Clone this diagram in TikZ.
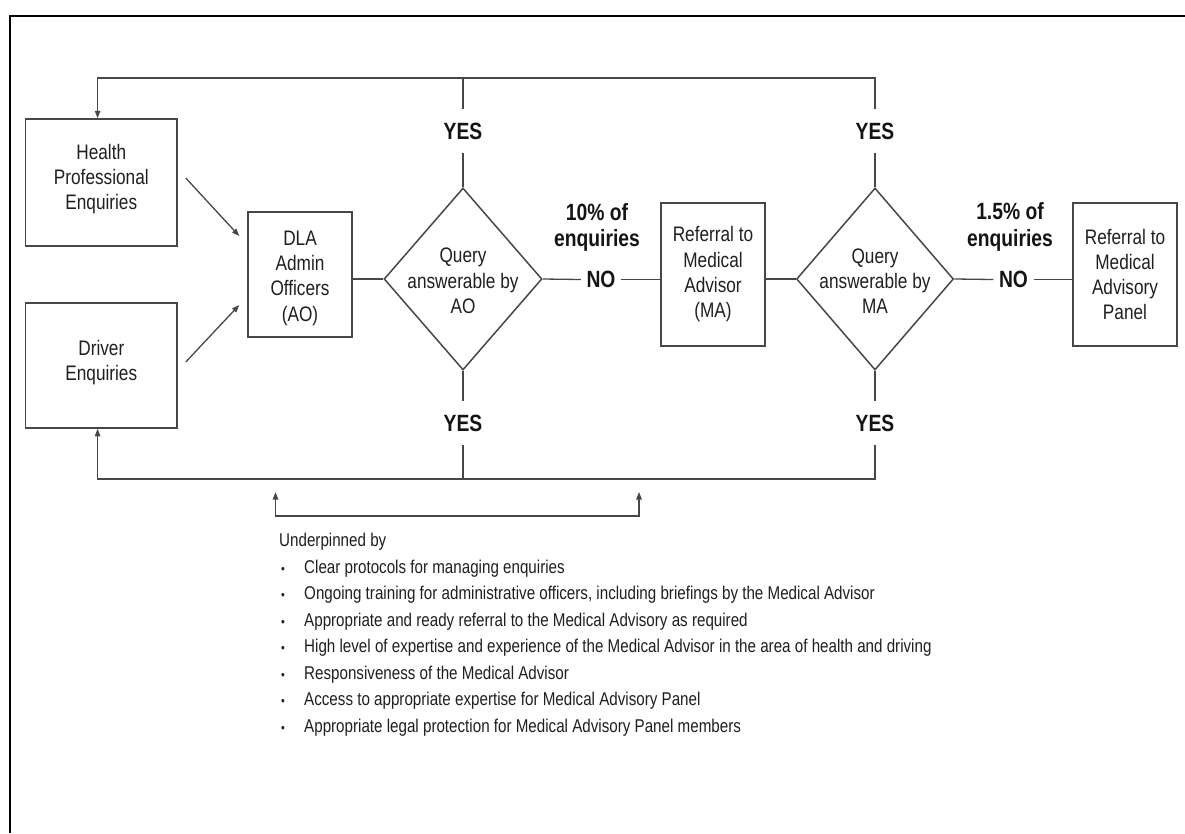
\documentclass[tikz,border=0pt]{standalone}
\usepackage{fontspec}
\setmainfont{Liberation Sans}[FakeStretch=0.82]
\usetikzlibrary{arrows.meta,shapes.geometric,calc}
\newcommand{\boxfont}{\fontsize{21pt}{25.3pt}\selectfont}
\newcommand{\lblfont}{\fontsize{23.5pt}{27pt}\selectfont\bfseries}
\newcommand{\bulfont}{\fontsize{18.5pt}{26.5pt}\selectfont}
\newcommand{\shiftlines}[2]{\raisebox{#1}[\height][\depth]{\begin{tabular}{@{}c@{}}#2\end{tabular}}}
\tikzset{
  ln/.style={draw=black!72, line width=1.3pt},
  arr/.style={ln, -{Triangle[length=7.5pt,width=5.5pt]}},
  dbl/.style={ln, {Triangle[length=7.5pt,width=5.5pt]}-{Triangle[length=7.5pt,width=5.5pt]}},
  boxnode/.style={draw=black!72, line width=1.5pt, inner sep=0pt, align=center,
    font=\boxfont, text=black!88},
  decision/.style={diamond, draw=black!72, line width=1.5pt, inner sep=0pt},
  dectext/.style={align=center, font=\boxfont, text=black!88, inner sep=0pt},
  lbl/.style={font=\lblfont, text=black!92, inner sep=0pt},
  yeslbl/.style={lbl, inner xsep=0pt, inner ysep=13pt},
  nolbl/.style={lbl, inner ysep=0pt, inner xsep=5.5pt},
  bul/.style={font=\bulfont, text=black!88, inner sep=0pt},
}
\begin{document}
\begin{tikzpicture}[x=1pt,y=-1pt]
\useasboundingbox (0,0) rectangle (1185,833);
% frame
\draw[line width=2.5pt, black] (10,833) -- (10,16) -- (1185,16);

% boxes
\node[boxnode, minimum width=151.4pt, minimum height=127pt] (hp) at (101.3,182.5)
  {\shiftlines{3pt}{Health\\Professional\\Enquiries}};
\node[boxnode, minimum width=151.4pt, minimum height=125pt] (dr) at (101.3,365.5)
  {\shiftlines{2.5pt}{Driver\\Enquiries}};
\node[boxnode, minimum width=104pt, minimum height=125pt] (dla) at (300,274.5)
  {\shiftlines{-3.5pt}{DLA\\Admin\\Officers\\(AO)}};
\node[decision, minimum width=158pt, minimum height=182pt] (aoq) at (463,279) {};
\node[dectext] (aoqt) at (463,281) {Query\\answerable by\\AO};
\node[boxnode, minimum width=104pt, minimum height=143pt] (mab) at (713,274.5)
  {Referral to\\Medical\\Advisor\\(MA)};
\node[decision, minimum width=157pt, minimum height=182pt] (maq) at (875,279) {};
\node[dectext] (maqt) at (875,281) {Query\\answerable by\\MA};
\node[boxnode, minimum width=104pt, minimum height=143pt] (map) at (1125,274.5)
  {Referral to\\Medical\\Advisory\\Panel};

% labels
\node[yeslbl] (y1t) at (463,131) {YES};
\node[yeslbl] (y2t) at (875,131) {YES};
\node[yeslbl] (y1b) at (463,423) {YES};
\node[yeslbl] (y2b) at (875,423) {YES};
\node[nolbl] (no1) at (601,279.5) {NO};
\node[nolbl] (no2) at (1013.5,279.5) {NO};
\node[lbl, anchor=base] (pa) at (597,220) {10\% of};
\node[lbl, anchor=base] (pb) at (597,246) {enquiries};
\node[lbl, anchor=base] (pc) at (1010,219) {1.5\% of};
\node[lbl, anchor=base] (pd) at (1010,246) {enquiries};

% loop coordinates
\coordinate (tl) at (97.6,78);
\coordinate (bl) at (97.6,479);

% connectors
\draw[arr] ($(hp.east)+(8,-4.5)$) -- ($(dla.west)+(-8,-38.5)$);
\draw[arr] ($(dr.east)+(8,-3.5)$) -- ($(dla.west)+(-8,30.5)$);
\draw[ln] (dla.east |- aoq.west) -- (aoq.west);
\draw[ln] (aoq.east) -- (no1.west);
\draw[ln] (no1.east) -- (no1.east -| mab.west);
\draw[ln] (mab.east |- maq.west) -- (maq.west);
\draw[ln] (maq.east) -- (no2.west);
\draw[ln] (no2.east) -- (no2.east -| map.west);

\draw[ln] (aoq.north) -- (y1t.south);
\draw[ln] (maq.north) -- (y2t.south);
\draw[ln] (aoq.south) -- (y1b.north);
\draw[ln] (maq.south) -- (y2b.north);

\draw[arr] (y2t.north) -- (y2t.north |- tl) -- (tl) -- (tl |- hp.north);
\draw[ln] (y1t.north) -- (y1t.north |- tl);
\draw[arr] (y2b.south) -- (y2b.south |- bl) -- (bl) -- (bl |- dr.south);
\draw[ln] (y1b.south) -- (y1b.south |- bl);

% bracket
\coordinate (bka) at (275.5,492);
\coordinate (bkb) at (639,492);
\draw[dbl] (bka) -- ++(0,24) -| (bkb);

% list
\node[bul, anchor=base west] (under) at (279,546.5) {Underpinned by};
\foreach \t [count=\i] in {
  Clear protocols for managing enquiries,
  {Ongoing training for administrative officers, including briefings by the Medical Advisor},
  Appropriate and ready referral to the Medical Advisory as required,
  High level of expertise and experience of the Medical Advisor in the area of health and driving,
  Responsiveness of the Medical Advisor,
  Access to appropriate expertise for Medical Advisory Panel,
  Appropriate legal protection for Medical Advisory Panel members}
{
  \node[bul, anchor=base west] (it\i) at (304,{546.5+26.5*\i}) {\t};
  \node[bul, anchor=base] (dot\i) at (283,{546.5+26.5*\i}) {{\fontsize{13pt}{13pt}\selectfont\textbullet}};
}
\end{tikzpicture}
\end{document}
